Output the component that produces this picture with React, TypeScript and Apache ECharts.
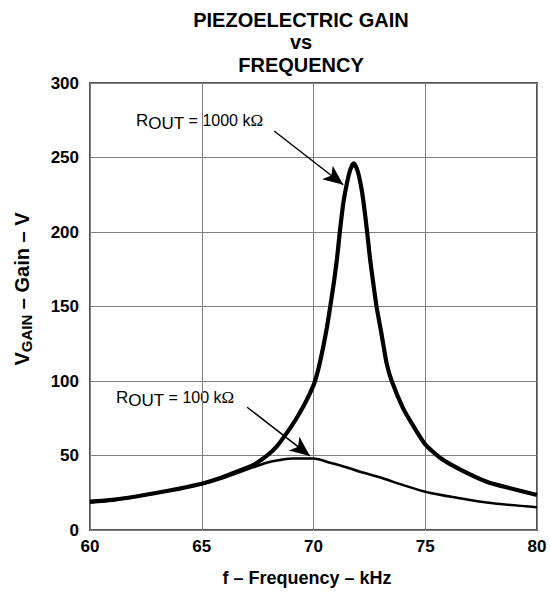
import React, { useEffect, useRef } from "react";
import * as echarts from "echarts";

const titleLines = ["PIEZOELECTRIC GAIN", "vs", "FREQUENCY"];
const xTitle = "f – Frequency – kHz";
const yTitleMain = "V";
const yTitleSub = "GAIN";
const yTitleRest = " – Gain – V";
const xMin = 60;
const xMax = 80;
const xStep = 5;
const yMin = 0;
const yMax = 300;
const yStep = 50;

const freq1000 = [60, 61, 62, 63, 64, 65, 65.8, 66.5, 67.3, 67.9, 68.35, 68.8, 69.2, 69.55, 69.85, 70.07, 70.25, 70.45, 70.6, 70.75, 70.92, 71.05, 71.17, 71.33, 71.5, 71.65, 71.8, 71.95, 72.1, 72.23, 72.4, 72.53, 72.68, 72.82, 73.05, 73.27, 73.5, 74.0, 74.5, 75, 75.66, 76.55, 77.75, 78.8, 80];
const gain1000 = [19, 20.2, 22.3, 25, 27.8, 31, 34.7, 38.8, 43.6, 49.7, 56, 65, 74, 83, 92, 100, 110, 124, 136, 150, 167, 182, 199, 219, 233, 242, 246, 242, 233, 221, 200, 182, 165, 150, 131, 112, 100, 82, 69, 57.5, 48.5, 40.7, 32.4, 28, 23.5];

const freq100 = [60, 61, 62, 63, 64, 65, 65.8, 66.5, 67.3, 67.9, 68.5, 69.1, 70, 70.74, 71.5, 72.08, 73, 73.57, 75, 76.55, 78.04, 80];
const gain100 = [18.5, 20, 22.4, 25, 27.7, 30.8, 34.3, 37.8, 42.1, 45.2, 47, 48, 48, 45.2, 42, 39.1, 35.3, 32.3, 25.7, 21.3, 17.9, 15.3];

const arrow1000 = [[68.24, 267.8], [71.33, 231.7]];
const arrow100 = [[67.03, 82.4], [69.84, 49.7]];
const label1000 = ["R", "OUT", " = 1000 k", "Ω"];
const label100 = ["R", "OUT", " = 100 k", "Ω"];

const FONT = "'Liberation Sans', Arial, sans-serif";

function zip(xs: number[], ys: number[]) {
  return xs.map((x, i) => [x, ys[i]]);
}

function richLabel(parts: string[]) {
  return `{r|${parts[0]}}{s|${parts[1]}}{n|${parts[2]}}{o|${parts[3]}}`;
}

const labelRich = {
  r: { fontSize: 17, lineHeight: 24, fontFamily: FONT, fill: "#000" },
  s: { fontSize: 17, lineHeight: 15, fontFamily: FONT, verticalAlign: "bottom", fill: "#000" },
  n: { fontSize: 16, lineHeight: 24, fontFamily: FONT, fill: "#000" },
  o: { fontSize: 17, lineHeight: 24, fontFamily: "'Liberation Serif', 'DejaVu Serif', serif", fill: "#000" },
};

export default function App() {
  const ref = useRef<HTMLDivElement>(null);
  useEffect(() => {
    if (!ref.current) return;
    const chart = echarts.init(ref.current, undefined, { renderer: "svg" });
    const markLineCommon = {
      silent: true,
      symbol: ["none", "arrow"],
      label: { show: false },
      emphasis: { disabled: true },
      lineStyle: { color: "#000", width: 1.5, type: "solid" },
    };
    const arrowLine = (a: number[][]) => [
      [
        { coord: a[0], symbol: "none" },
        { coord: a[1], symbol: "arrow", symbolSize: [13, 20] },
      ],
    ];
    chart.setOption({
      animation: false,
      backgroundColor: "#fff",
      grid: {
        left: 90,
        right: 13,
        top: 83,
        bottom: 65,
        show: true,
        borderColor: "#555",
        borderWidth: 2,
        containLabel: false,
      },
      xAxis: {
        type: "value",
        min: xMin,
        max: xMax,
        interval: xStep,
        axisLine: { show: false },
        axisTick: { show: false },
        splitLine: { show: true, lineStyle: { color: "#808080", width: 1 } },
        axisLabel: {
          color: "#000",
          fontSize: 17,
          fontWeight: "bold",
          fontFamily: FONT,
          margin: 8,
        },
      },
      yAxis: {
        type: "value",
        min: yMin,
        max: yMax,
        interval: yStep,
        axisLine: { show: false },
        axisTick: { show: false },
        splitLine: { show: true, lineStyle: { color: "#808080", width: 1 } },
        axisLabel: {
          color: "#000",
          fontSize: 17,
          fontWeight: "bold",
          fontFamily: FONT,
          margin: 11,
        },
      },
      series: [
        {
          type: "line",
          name: "1000k",
          data: zip(freq1000, gain1000),
          showSymbol: false,
          smooth: 0.2,
          lineStyle: { color: "#000", width: 4.2 },
          z: 3,
          markLine: { ...markLineCommon, data: arrowLine(arrow1000) },
        },
        {
          type: "line",
          name: "100k",
          data: zip(freq100, gain100),
          showSymbol: false,
          smooth: 0.3,
          lineStyle: { color: "#000", width: 2.6 },
          z: 2,
          markLine: { ...markLineCommon, data: arrowLine(arrow100) },
        },
      ],
      graphic: [
        ...titleLines.map((t, i) => ({
          type: "text",
          x: 301,
          y: 20 + i * 22.4,
          style: {
            text: t,
            fontSize: 20,
            fontWeight: "bold",
            fontFamily: FONT,
            fill: "#000",
            align: "center",
            verticalAlign: "middle",
          },
        })),
        {
          type: "text",
          x: 307,
          y: 578,
          style: {
            text: xTitle,
            fontSize: 18,
            fontWeight: "bold",
            fontFamily: FONT,
            fill: "#000",
            align: "center",
            verticalAlign: "middle",
          },
        },
        {
          type: "text",
          x: 22,
          y: 289,
          rotation: Math.PI / 2,
          style: {
            text: `{a|${yTitleMain}}{b|${yTitleSub}}{a|${yTitleRest}}`,
            align: "center",
            verticalAlign: "middle",
            rich: {
              a: { fontSize: 20, lineHeight: 24, fontWeight: "bold", fontFamily: FONT, fill: "#000" },
              b: { fontSize: 15, lineHeight: 18, fontWeight: "bold", fontFamily: FONT, fill: "#000", verticalAlign: "bottom" },
            },
          },
        },
        {
          type: "text",
          x: 136,
          y: 120,
          style: {
            text: richLabel(label1000),
            align: "left",
            verticalAlign: "middle",
            rich: labelRich,
          },
        },
        {
          type: "text",
          x: 116,
          y: 397,
          style: {
            text: richLabel(label100),
            align: "left",
            verticalAlign: "middle",
            rich: labelRich,
          },
        },
      ],
    });
    return () => chart.dispose();
  }, []);
  return (
    <div
      ref={ref}
      style={{ position: "absolute", left: 0, top: 0, width: 550, height: 595, background: "#fff" }}
    />
  );
}
